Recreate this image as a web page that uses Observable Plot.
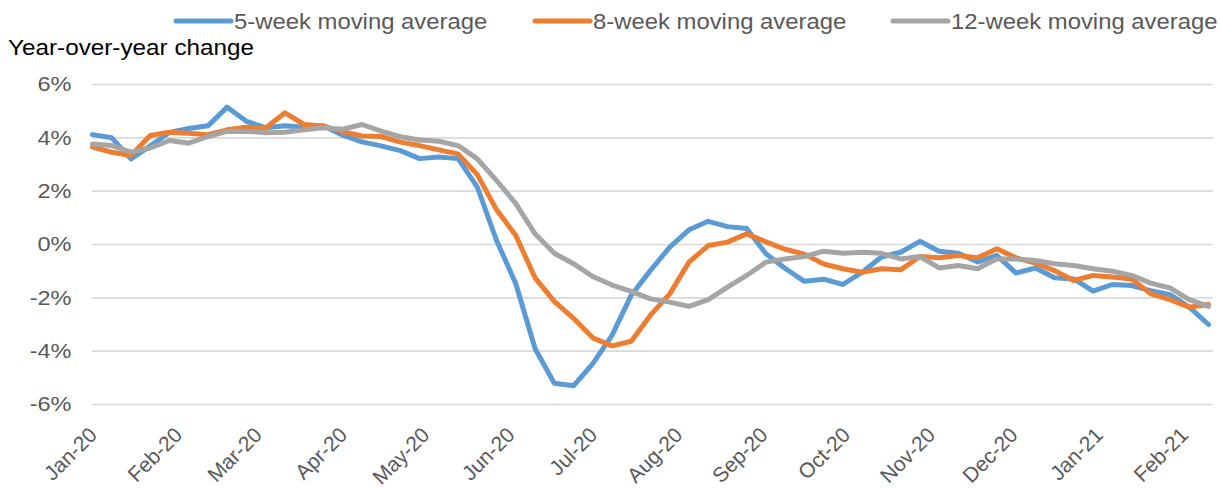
<!DOCTYPE html>
<html><head><meta charset="utf-8">
<script src="https://cdn.jsdelivr.net/npm/d3@7"></script>
<script src="https://cdn.jsdelivr.net/npm/@observablehq/plot@0.6"></script>
<style>
body{margin:0;background:#fff;font-family:"Liberation Sans",Arial,sans-serif;}
#wrap{width:1220px;height:489px;overflow:hidden;}
#header{display:block;height:60px;}
</style></head><body>
<div id="wrap"><div id="header"></div><div id="chart"></div></div>
<script>
// ---- data ----
const firstWeek = "2020-01-01";
const seriesNames = ["5-week moving average", "8-week moving average", "12-week moving average"];
const seriesColors = ["#5B9BD5", "#ED7D31", "#A5A5A5"];
const fiveWeek = [4.12,4.0,3.21,3.7,4.2,4.35,4.45,5.15,4.62,4.38,4.45,4.4,4.45,4.1,3.85,3.7,3.52,3.22,3.28,3.22,
  2.15,0.15,-1.47,-3.9,-5.2,-5.3,-4.47,-3.41,-1.9,-0.97,-0.1,0.55,0.87,0.67,0.6,-0.35,-0.9,-1.38,-1.3,-1.5,
  -1.04,-0.47,-0.29,0.12,-0.25,-0.33,-0.66,-0.41,-1.07,-0.88,-1.25,-1.29,-1.75,-1.5,-1.54,-1.73,-1.88,-2.35,-3.0];
const eightWeek = [3.65,3.46,3.34,4.09,4.21,4.17,4.12,4.3,4.4,4.37,4.94,4.5,4.44,4.23,4.07,4.05,3.84,3.71,3.55,3.4,
  2.62,1.3,0.34,-1.25,-2.13,-2.77,-3.5,-3.8,-3.63,-2.65,-1.85,-0.66,-0.04,0.09,0.4,0.1,-0.18,-0.36,-0.73,-0.91,
  -1.04,-0.91,-0.95,-0.45,-0.5,-0.41,-0.5,-0.16,-0.5,-0.7,-0.98,-1.35,-1.16,-1.22,-1.29,-1.85,-2.07,-2.35,-2.25];
const twelveWeek = [3.77,3.71,3.46,3.62,3.9,3.8,4.05,4.24,4.25,4.19,4.21,4.3,4.38,4.32,4.5,4.25,4.04,3.92,3.87,3.71,
  3.21,2.4,1.53,0.4,-0.33,-0.72,-1.2,-1.52,-1.76,-2.04,-2.16,-2.32,-2.07,-1.6,-1.16,-0.66,-0.54,-0.45,-0.25,-0.33,
  -0.29,-0.33,-0.54,-0.45,-0.88,-0.79,-0.91,-0.54,-0.54,-0.6,-0.72,-0.79,-0.91,-1.0,-1.16,-1.45,-1.63,-2.07,-2.32];
const yTickValues = [-6, -4, -2, 0, 2, 4, 6];
const monthTickLabels = ["Jan-20","Feb-20","Mar-20","Apr-20","May-20","Jun-20","Jul-20","Aug-20","Sep-20","Oct-20","Nov-20","Dec-20","Jan-21","Feb-21"];
const yAxisTitle = "Year-over-year change";

// ---- build table ----
const start = new Date(firstWeek + "T00:00:00Z");
const weekDate = i => d3.utcDay.offset(start, 7 * i);
const table = [];
[fiveWeek, eightWeek, twelveWeek].forEach((arr, s) => {
  arr.forEach((v, i) => table.push({series: seriesNames[s], date: weekDate(i), value: v}));
});
const parseMonth = d3.utcParse("%b-%y");
const monthTicks = monthTickLabels.map(parseMonth);

const FONT = "'Liberation Sans', Arial, sans-serif";
const STRETCH = 1.12;

// ---- header (legend + y title) ----
const header = d3.select("#header").append("svg")
  .attr("width", 1220).attr("height", 60).style("display", "block").style("overflow", "visible");
const legendX = [176, 535, 893];
seriesNames.forEach((name, i) => {
  header.append("line").attr("x1", legendX[i]).attr("x2", legendX[i] + 55)
    .attr("y1", 21).attr("y2", 21).attr("stroke", seriesColors[i]).attr("stroke-width", 5)
    .attr("stroke-linecap", "round");
  header.append("text").attr("x", legendX[i] + 58).attr("y", 28.5)
    .attr("font-family", FONT).attr("font-size", 21.3).attr("fill", "#595959")
    .attr("data-k", 1.12).attr("class", "stretch").text(name);
});
header.append("text").attr("x", 8).attr("y", 55).attr("font-family", FONT)
  .attr("font-size", 21.3).attr("fill", "#000").attr("data-k", 1.14).attr("class", "stretch").text(yAxisTitle);

// ---- chart ----
const chart = Plot.plot({
  width: 1220,
  height: 429,
  marginLeft: 92,
  marginRight: 7,
  marginTop: 24,
  marginBottom: 85,
  style: {fontFamily: FONT, fontSize: "21px", color: "#595959", background: "transparent", overflow: "visible"},
  x: {type: "utc", insetRight: 5},
  y: {domain: [-6, 6]},
  color: {domain: seriesNames, range: seriesColors},
  marks: [
    Plot.ruleY(yTickValues, {stroke: "#D9D9D9", strokeWidth: 1.6}),
    Plot.axisY({ticks: yTickValues, tickSize: 0, tickPadding: 21, tickFormat: d => d + "%", label: null, fill: "#595959"}),
    Plot.axisX({ticks: monthTicks, tickSize: 0, tickPadding: 24, tickRotate: -45, dx: 1, dy: 3,
      fontSize: 21, tickFormat: d3.utcFormat("%b-%y"), label: null, fill: "#595959"}),
    Plot.line(table, {x: "date", y: "value", z: "series", stroke: "series", strokeWidth: 5,
      strokeLinejoin: "round", strokeLinecap: "round"})
  ]
});
chart.style.display = "block";
document.getElementById("chart").appendChild(chart);

// horizontal stretch of horizontal texts to match the reference letter widths
function stretch(t, k) {
  const w = t.getComputedTextLength();
  t.setAttribute("textLength", w * k);
  t.setAttribute("lengthAdjust", "spacingAndGlyphs");
}
document.querySelectorAll("#header text.stretch").forEach(t => stretch(t, +t.getAttribute("data-k")));
chart.querySelectorAll('g[aria-label="y-axis tick label"] text').forEach(t => stretch(t, STRETCH));
</script>
</body></html>
